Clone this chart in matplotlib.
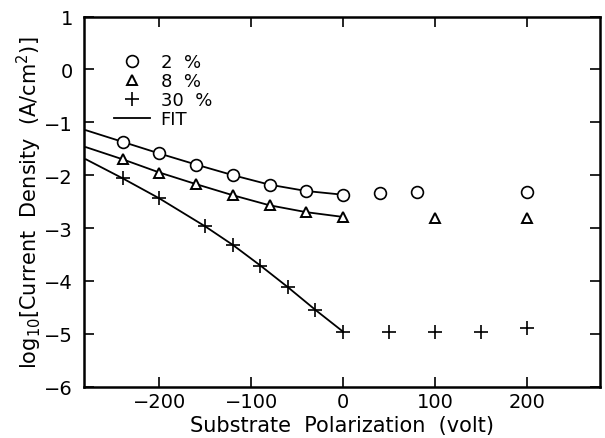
import numpy as np
import matplotlib
matplotlib.use('Agg')
import matplotlib.pyplot as plt
from matplotlib.lines import Line2D

plt.rcParams['font.family'] = 'DejaVu Sans'
plt.rcParams['mathtext.default'] = 'regular'

# measured points
x_2 = [-240, -200, -160, -120, -80, -40, 0, 40, 80, 200]
y_2 = [-1.37, -1.59, -1.80, -2.00, -2.18, -2.30, -2.37, -2.33, -2.31, -2.31]

x_8 = [-240, -200, -160, -120, -80, -40, 0, 100, 200]
y_8 = [-1.70, -1.95, -2.17, -2.38, -2.57, -2.70, -2.79, -2.81, -2.81]

x_30 = [-240, -200, -150, -120, -90, -60, -30, 0, 50, 100, 150, 200]
y_30 = [-2.06, -2.44, -2.97, -3.32, -3.71, -4.12, -4.55, -4.96, -4.96, -4.96, -4.96, -4.90]

# fit curves
fit_x_2 = [-280, -240, -200, -160, -120, -80, -40, 0]
fit_y_2 = [-1.15, -1.37, -1.59, -1.80, -2.00, -2.18, -2.30, -2.37]
fit_x_8 = [-280, -240, -200, -160, -120, -80, -40, 0]
fit_y_8 = [-1.47, -1.70, -1.95, -2.17, -2.38, -2.57, -2.70, -2.79]
fit_x_30 = [-280, -240, -200, -150, -120, -90, -60, -30, 0]
fit_y_30 = [-1.70, -2.06, -2.44, -2.97, -3.32, -3.71, -4.12, -4.55, -4.96]

fig = plt.figure(figsize=(6.05, 4.39), dpi=100)
ax = fig.add_axes([0.139, 0.117, 0.853, 0.843])

for fx, fy in [(fit_x_2, fit_y_2), (fit_x_8, fit_y_8), (fit_x_30, fit_y_30)]:
    ax.plot(fx, fy, color='black', lw=1.3)

ax.plot(x_2, y_2, 'o', mfc='white', mec='black', mew=1.2, ms=8.5, ls='none')
ax.plot(x_8, y_8, '^', mfc='white', mec='black', mew=1.4, ms=7.5, ls='none')
ax.plot(x_30, y_30, '+', color='black', mew=1.2, ms=10, ls='none')

ax.set_xlim(-282, 280)
ax.set_ylim(-6, 1)
ax.set_xticks([-200, -100, 0, 100, 200])
ax.set_yticks(np.arange(-6, 2, 1))
ax.tick_params(direction='in', length=7, width=1.2, labelsize=14,
               top=True, right=True, pad=4)
ax.tick_params(axis='y', pad=8)
for s in ax.spines.values():
    s.set_linewidth(1.8)

ax.set_xlabel('Substrate  Polarization  (volt)', fontsize=15, labelpad=3)
ax.set_ylabel(r'log$_{10}$[Current  Density  (A/cm$^2$)]', fontsize=15, labelpad=0)

handles = [
    Line2D([], [], marker='o', mfc='white', mec='black', mew=1.2, ms=8.5, ls='none'),
    Line2D([], [], marker='^', mfc='white', mec='black', mew=1.4, ms=7.5, ls='none'),
    Line2D([], [], marker='+', color='black', mew=1.2, ms=10, ls='none'),
    Line2D([], [], color='black', lw=1.3),
]
labels = ['2  %', '8  %', '30  %', 'FIT']
ax.legend(handles, labels, loc='upper left', bbox_to_anchor=(0.04, 0.925),
          frameon=False, fontsize=13, handlelength=2.0, handletextpad=0.6,
          labelspacing=0.05, borderpad=0)

fig.savefig('out.png', dpi=100)
